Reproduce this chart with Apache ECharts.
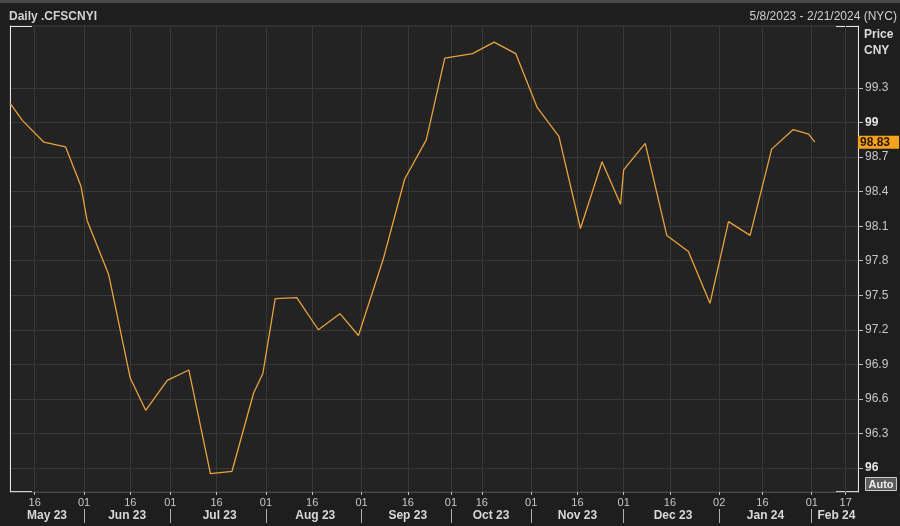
<!DOCTYPE html>
<html><head><meta charset="utf-8">
<script src="https://cdn.jsdelivr.net/npm/echarts@6/dist/echarts.min.js"></script>
<style>html,body{margin:0;padding:0;background:#1e1e1e}#c{width:900px;height:526px}</style>
</head><body><div id="c"></div>
<script>
// ---- data ----
const startDate = '2023-05-08';
const endDate = '2024-02-21';
// non-trading weekdays removed from the axis
const holidays = ['2023-06-22','2023-06-23','2023-09-29','2023-10-02','2023-10-03','2023-10-04','2023-10-05','2023-10-06','2024-01-01','2024-02-12','2024-02-13','2024-02-14','2024-02-15','2024-02-16'];
const dayTicks = ['2023-05-16','2023-06-01','2023-06-16','2023-07-01','2023-07-16','2023-08-01','2023-08-16','2023-09-01','2023-09-16','2023-10-01','2023-10-16','2023-11-01','2023-11-16','2023-12-01','2023-12-16','2024-01-02','2024-01-16','2024-02-01','2024-02-17'];
const priceDates = ['2023-05-08','2023-05-12','2023-05-19','2023-05-26','2023-05-31','2023-06-02','2023-06-09','2023-06-16','2023-06-21','2023-06-30','2023-07-07','2023-07-14','2023-07-21','2023-07-28','2023-07-31','2023-08-04','2023-08-11','2023-08-18','2023-08-25','2023-08-31','2023-09-08','2023-09-15','2023-09-22','2023-09-28','2023-10-13','2023-10-20','2023-10-27','2023-11-03','2023-11-10','2023-11-17','2023-11-24','2023-11-30','2023-12-01','2023-12-08','2023-12-15','2023-12-22','2023-12-29','2024-01-05','2024-01-12','2024-01-19','2024-01-26','2024-01-31','2024-02-02'];
const prices = [99.17,99.02,98.83,98.79,98.45,98.15,97.68,96.78,96.50,96.76,96.85,95.95,95.97,96.65,96.82,97.47,97.48,97.20,97.34,97.15,97.81,98.51,98.85,99.56,99.60,99.70,99.60,99.13,98.88,98.08,98.66,98.29,98.59,98.82,98.02,97.88,97.43,98.14,98.02,98.77,98.94,98.90,98.83];
const yTicks = [96, 96.3, 96.6, 96.9, 97.2, 97.5, 97.8, 98.1, 98.4, 98.7, 99, 99.3];
const yMin = 95.79, yMax = 99.84;
const monthNames = ['Jan','Feb','Mar','Apr','May','Jun','Jul','Aug','Sep','Oct','Nov','Dec'];

// ---- categories (calendar days minus holidays) ----
const categories = [];
for (let t = Date.parse(startDate); t <= Date.parse(endDate); t += 86400000) {
  const s = new Date(t).toISOString().slice(0, 10);
  if (!holidays.includes(s)) categories.push(s);
}
const groups = [];
categories.forEach((c, i) => {
  const m = c.slice(0, 7);
  if (!groups.length || groups[groups.length - 1].m !== m) groups.push({ m, first: i });
});
const monthSep = new Set();
const monthLabel = {};
groups.forEach((g, k) => {
  const end = k + 1 < groups.length ? groups[k + 1].first : categories.length - 1;
  const mid = Math.round((g.first + end) / 2);
  monthLabel[categories[mid]] = monthNames[+g.m.slice(5, 7) - 1] + ' ' + g.m.slice(2, 4);
  if (k > 0) monthSep.add(categories[g.first]);
});
const tickSet = new Set(dayTicks);
const lastPrice = prices[prices.length - 1];
const FONT = '"Liberation Sans", Arial, sans-serif';

const chart = echarts.init(document.getElementById('c'), null, { renderer: 'canvas' });
chart.setOption({
  backgroundColor: '#1e1e1e',
  animation: false,
  textStyle: { fontFamily: FONT },
  title: [
    { text: 'Daily .CFSCNYI', left: 9, top: 10, padding: 0, textStyle: { color: '#d2d2d2', fontSize: 12, fontWeight: 'bold', fontFamily: FONT, lineHeight: 14 } },
    { text: '5/8/2023 - 2/21/2024 (NYC)', right: 3, top: 10, padding: 0, textStyle: { color: '#cfcfcf', fontSize: 12, fontWeight: 'normal', fontFamily: FONT, lineHeight: 14 } },
    { text: 'Price\nCNY', left: 864, top: 27, padding: 0, textStyle: { color: '#dcdcdc', fontSize: 12, fontWeight: 'bold', fontFamily: FONT, lineHeight: 16 } }
  ],
  grid: { left: 10, right: 42, top: 26, bottom: 34, show: true, backgroundColor: '#232323', borderColor: '#404040', borderWidth: 1 },
  xAxis: [{
    type: 'category', data: categories, boundaryGap: false, position: 'bottom',
    axisLine: { show: true, lineStyle: { color: '#4a4a4a' } },
    axisTick: { show: true, interval: (i, v) => tickSet.has(v), length: 3, lineStyle: { color: '#bdbdbd' } },
    axisLabel: { interval: (i, v) => tickSet.has(v), formatter: v => v.slice(8, 10), color: '#c8c8c8', fontSize: 11, margin: 5, fontFamily: FONT },
    splitLine: { show: true, interval: (i, v) => tickSet.has(v), lineStyle: { color: '#383838', width: 1 } }
  }, {
    type: 'category', data: categories, boundaryGap: false, position: 'bottom', offset: 17,
    axisLine: { show: false },
    axisTick: { show: true, interval: (i, v) => monthSep.has(v), length: 14, lineStyle: { color: '#b0b0b0' } },
    axisLabel: { interval: (i, v) => !!monthLabel[v], formatter: v => monthLabel[v] || '', color: '#d8d8d8', fontSize: 12, fontWeight: 'bold', margin: 1, fontFamily: FONT },
    splitLine: { show: false }
  }],
  yAxis: [{
    type: 'value', position: 'right', min: yMin, max: yMax,
    axisLine: { show: true, lineStyle: { color: '#e4e4e4', width: 1 } },
    axisTick: { show: true, customValues: yTicks, length: 5, lineStyle: { color: '#bdbdbd' } },
    axisLabel: {
      customValues: yTicks, margin: 7, color: '#c8c8c8', fontSize: 12, fontFamily: FONT,
      formatter: v => Number.isInteger(v) ? '{b|' + v + '}' : v.toFixed(1),
      rich: { b: { fontWeight: 'bold', color: '#e6e6e6', fontSize: 12, fontFamily: FONT } }
    },
    splitLine: { show: true, lineStyle: { color: '#383838', width: 1 } }
  }, {
    type: 'value', position: 'left', min: yMin, max: yMax,
    axisLine: { show: true, lineStyle: { color: '#e4e4e4', width: 1 } },
    axisTick: { show: false }, axisLabel: { show: false }, splitLine: { show: false }
  }],
  series: [{
    type: 'line', xAxisIndex: 0, yAxisIndex: 0,
    data: priceDates.map((d, i) => [d, prices[i]]),
    symbol: 'none', showSymbol: false,
    lineStyle: { color: '#e9a23b', width: 1.3 },
    markLine: {
      silent: true, symbol: 'none', animation: false,
      lineStyle: { color: 'rgba(0,0,0,0)', width: 0, type: 'solid' },
      label: {
        show: true, position: 'end', distance: 0,
        formatter: () => lastPrice.toFixed(2),
        backgroundColor: '#f5a21c', color: '#2a1400', fontWeight: 'bold', fontSize: 12,
        fontFamily: FONT, padding: [1, 9, 0, 2], opacity: 1
      },
      data: [{ yAxis: lastPrice }]
    }
  }],
  graphic: [
    { type: 'rect', left: 0, top: 0, shape: { width: 900, height: 3 }, style: { fill: '#4a4a4a' }, silent: true },
    { type: 'line', shape: { x1: 10, y1: 26.5, x2: 32, y2: 26.5 }, style: { stroke: '#e4e4e4', lineWidth: 1 }, silent: true },
    { type: 'line', shape: { x1: 836, y1: 26.5, x2: 858, y2: 26.5 }, style: { stroke: '#e4e4e4', lineWidth: 1 }, silent: true },
    { type: 'line', shape: { x1: 10, y1: 491.5, x2: 32, y2: 491.5 }, style: { stroke: '#d0d0d0', lineWidth: 1 }, silent: true },
    { type: 'line', shape: { x1: 836, y1: 491.5, x2: 858, y2: 491.5 }, style: { stroke: '#d0d0d0', lineWidth: 1 }, silent: true },
    {
      type: 'group', left: 865, top: 477, silent: true,
      children: [
        { type: 'rect', shape: { x: 0, y: 0, width: 31, height: 13 }, style: { fill: '#5c5c5c', stroke: '#c8c8c8', lineWidth: 1 } },
        { type: 'text', x: 15.5, y: 7, style: { text: 'Auto', fill: '#eeeeee', font: 'bold 11px ' + FONT, align: 'center', verticalAlign: 'middle' } }
      ]
    }
  ]
});
</script></body></html>
